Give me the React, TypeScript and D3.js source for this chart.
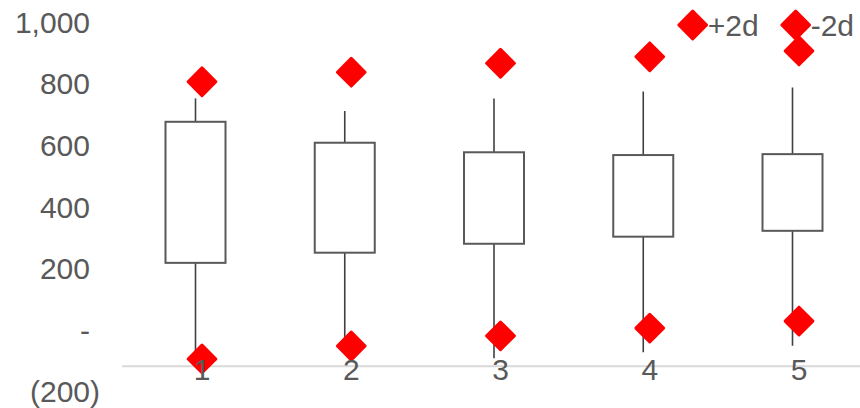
import React from 'react';
import * as d3 from 'd3';

// box plot stats per group
const categories = ['1', '2', '3', '4', '5'];
const maxVals = [752, 711, 752, 774, 787];
const q3Vals = [676, 608, 577, 568, 571];
const q1Vals = [218, 251, 280, 303, 322];
const minVals = [-75, -40, -92, -72, -51];
// mean +/- 2 sd markers
const plus2d = [806, 837, 866, 887, 906];
const minus2d = [-94, -52, -19, 6, 29];
const yTicks = [-200, 0, 200, 400, 600, 800, 1000];
const legendNames = ['+2d', '-2d'];

const W = 860;
const H = 408;
const axisAt = -118;
const textColor = '#595959';
const markerColor = '#ff0000';
const font = '"Liberation Sans", Arial, sans-serif';
const fs = 30;

const fmt = (v: number) => {
  if (v === 0) return '-';
  if (v < 0) return `(${d3.format(',')(-v)})`;
  return d3.format(',')(v);
};

const Diamond = ({ x, y }: { x: number; y: number }) => (
  <rect
    x={-9.8}
    y={-9.8}
    width={19.6}
    height={19.6}
    fill={markerColor}
    stroke={markerColor}
    strokeWidth={3}
    strokeLinejoin="round"
    transform={`translate(${x},${y}) rotate(45)`}
  />
);

export default function App() {
  const y = d3.scaleLinear().domain([-200, 1000]).range([391.6, 22]);
  const x = d3.scalePoint<string>().domain(categories).range([202, 799]);
  const boxOffset = -6.5;
  const boxW = 60;
  const axisY = y(axisAt);

  return (
    <svg
      width={W}
      height={H}
      style={{ position: 'absolute', left: 0, top: 0, background: '#fff' }}
      fontFamily={font}
    >
      {/* y labels */}
      <g fill={textColor} fontSize={fs}>
        {yTicks.map((t) => (
          <text key={t} x={t < 0 ? 100 : 90} y={y(t)} dy="0.36em" textAnchor="end">
            {fmt(t)}
          </text>
        ))}
      </g>

      {/* category axis */}
      <line x1={122} x2={W} y1={axisY} y2={axisY} stroke="#d9d9d9" strokeWidth={2} />

      {/* boxes + whiskers */}
      {categories.map((c, i) => {
        const cx = (x(c) as number) + boxOffset;
        return (
          <g key={c}>
            <line x1={cx} x2={cx} y1={y(maxVals[i])} y2={y(minVals[i])} stroke="#404040" strokeWidth={1.6} />
            <rect
              x={cx - boxW / 2}
              y={y(q3Vals[i])}
              width={boxW}
              height={y(q1Vals[i]) - y(q3Vals[i])}
              fill="#fff"
              stroke={textColor}
              strokeWidth={2}
            />
          </g>
        );
      })}

      {/* +2d / -2d markers */}
      {categories.map((c, i) => (
        <g key={'m' + c}>
          <Diamond x={x(c) as number} y={y(plus2d[i])} />
          <Diamond x={x(c) as number} y={y(minus2d[i])} />
        </g>
      ))}

      {/* x labels drawn on top */}
      <g fill={textColor} fontSize={fs} textAnchor="middle">
        {categories.map((c) => (
          <text key={'l' + c} x={x(c) as number} y={axisY + 14}>
            {c}
          </text>
        ))}
      </g>

      {/* legend */}
      <g fontSize={fs} fill={textColor}>
        {legendNames.map((n, i) => {
          const lx = i === 0 ? 692.7 : 795.7;
          return (
            <g key={n}>
              <Diamond x={lx} y={25} />
              <text x={lx + 15} y={25} dy="0.36em">
                {n}
              </text>
            </g>
          );
        })}
      </g>
    </svg>
  );
}
